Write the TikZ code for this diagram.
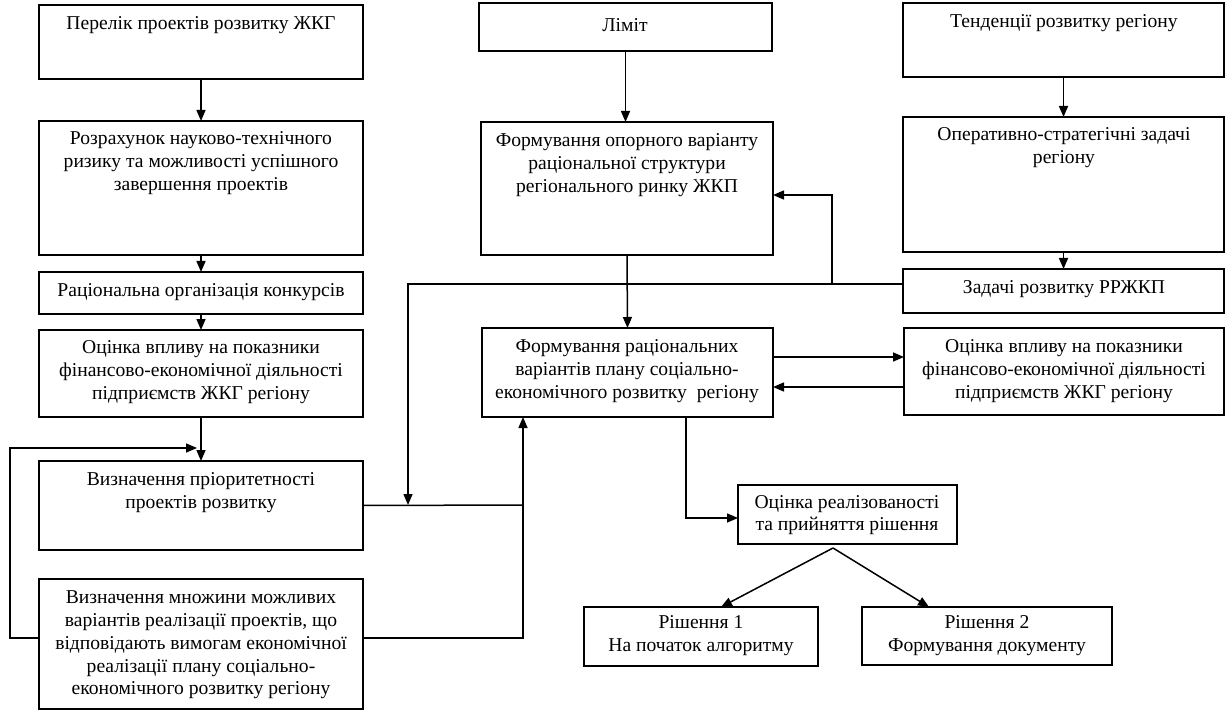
\documentclass[tikz,border=0pt]{standalone}
\usepackage{fontspec}
\setmainfont{Liberation Serif}
\usetikzlibrary{arrows.meta,calc}
\newcommand\mkbox[5]{\node[box, anchor=north west, minimum width={#4-#2}, minimum height={#5-#3}] (#1) at (#2,#3) {};}
\tikzset{
  box/.style={draw, line width=1.6pt, inner sep=0pt, outer sep=0pt},
  txt/.style={align=center, inner sep=0pt, font=\fontsize{19.6}{22.8}\selectfont},
  ln/.style={line width=1.5pt},
  arr/.style={line width=1.5pt, -{Triangle[length=11pt,width=9pt]}}
}
\begin{document}
\begin{tikzpicture}[x=1pt,y=-1pt]
\useasboundingbox (0,0) rectangle (1226,711);
% left column
\mkbox{b1}{39}{5}{363}{79}
\mkbox{b2}{39}{121}{363}{255}
\mkbox{b3}{39}{272}{363}{314}
\mkbox{b4}{39}{330}{363}{417}
\mkbox{b5}{39}{461}{363}{550}
\mkbox{b6}{39}{579}{363}{709}
% middle column
\mkbox{l1}{479}{3}{772}{51}
\mkbox{c2}{481}{122}{773}{255}
\mkbox{c3}{482}{328}{773}{417}
\mkbox{d1}{738}{485}{957}{544}
\mkbox{e1}{584}{607}{818}{666}
\mkbox{e2}{862}{607}{1112}{665}
% right column
\mkbox{r1}{903}{3}{1224}{77}
\mkbox{r2}{903}{117}{1224}{252}
\mkbox{r3}{903}{269}{1224}{313}
\mkbox{r4}{904}{328}{1224}{415}
% texts
\node[txt] (t1) at (201,25) {Перелік проектів розвитку ЖКГ};
\node[txt] (t2) at (201,163) {Розрахунок науково-технічного\\ризику та можливості успішного\\завершення проектів};
\node[txt] (t3) at (201,292) {Раціональна організація конкурсів};
\node[txt] (t4) at (201,372) {Оцінка впливу на показники\\фінансово-економічної діяльності\\підприємств ЖКГ регіону};
\node[txt] (t5) at (201,493) {Визначення пріоритетності\\проектів розвитку};
\node[txt] (t6) at (201,645) {Визначення множини можливих\\варіантів реалізації проектів, що\\відповідають вимогам економічної\\реалізації плану соціально-\\економічного розвитку регіону};
\node[txt] (tl) at (625,25) {Ліміт};
\node[txt] (tc2) at (627,165) {Формування опорного варіанту\\раціональної структури\\регіонального ринку ЖКП};
\node[txt] (tc3) at (627,371) {Формування раціональних\\варіантів плану соціально-\\економічного розвитку~~регіону};
\node[txt] (tr1) at (1064,23) {Тенденції розвитку регіону};
\node[txt] (tr2) at (1064,148) {Оперативно-стратегічні задачі\\регіону};
\node[txt] (tr3) at (1064,289) {Задачі розвитку РРЖКП};
\node[txt] (tr4) at (1064,371) {Оцінка впливу на показники\\фінансово-економічної діяльності\\підприємств ЖКГ регіону};
\node[txt] (td1) at (847,515) {Оцінка реалізованості\\та прийняття рішення};
\node[txt] (te1) at (701,636) {Рішення 1\\На початок алгоритму};
\node[txt] (te2) at (987,636) {Рішення 2\\Формування документу};
% connectors
\draw[arr] (b1.south) -- (b2.north);
\draw[arr] (b2.south) -- (b3.north);
\draw[arr] (b3.south) -- (b4.north);
\draw[arr] (b4.south) -- (b5.north);
\coordinate (fb) at (197,448);
\coordinate (lp) at (10,448);
\draw[arr] ($(b6.west)+(0,-6)$) -| (lp) -- (fb);
\coordinate (j1) at (523,505);
\draw[ln] (b5.east) -- (j1);
\draw[arr] ($(b6.east)+(0,-6)$) -| ($(c3.south west)+(41,0)$);
\coordinate (j3) at (408,505);
\draw[arr] ($(r3.west)+(0,-7)$) -| (j3);
\coordinate (j2) at (832,284);
\draw[arr] (j2) |- ($(c2.east)+(0,6.5)$);
\draw[arr] (l1.south) -- (l1.south |- c2.north);
\draw[arr] (c2.south) -- (c3.north);
\draw[arr] (r1.south) -- (r2.north);
\draw[arr] (r2.south) -- (r3.north);
\draw[arr] ($(c3.east)+(0,-15.5)$) -- ($(r4.west)+(0,-14.5)$);
\draw[arr] ($(r4.west)+(0,15.5)$) -- ($(c3.east)+(0,14.5)$);
\draw[arr] ($(c3.south west)+(204,0)$) |- ($(d1.west)+(0,3.5)$);
\coordinate (apex) at ($(d1.south)+(-14.5,4)$);
\draw[arr] (apex) -- ($(e1.north)+(20,0)$);
\draw[arr] (apex) -- ($(e2.north)+(-58,0)$);
\end{tikzpicture}
\end{document}
